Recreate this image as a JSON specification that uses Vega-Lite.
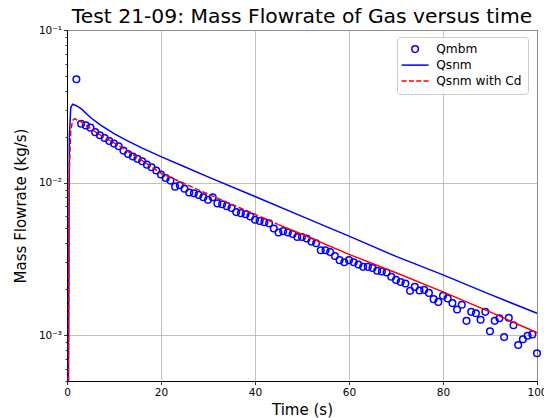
{
  "$schema": "https://vega.github.io/schema/vega-lite/v6.json",
  "width": 470,
  "height": 351,
  "autosize": "none",
  "padding": {"left": 67, "top": 30, "right": 7, "bottom": 37},
  "title": {"text": "Test 21-09: Mass Flowrate of Gas versus time", "fontSize": 20.3, "font": "DejaVu Sans", "fontWeight": "normal", "color": "#000000", "offset": -2, "anchor": "middle"},
  "config": {
    "font": "DejaVu Sans",
    "view": {"stroke": "#000000", "strokeWidth": 1},
    "axis": {"domainColor": "#000000", "tickColor": "#000000", "labelColor": "#000000", "titleColor": "#000000", "labelFont": "DejaVu Sans", "titleFont": "DejaVu Sans", "labelFontSize": 10.5, "titleFontSize": 15, "titleFontWeight": "normal", "gridColor": "#b0b0b0", "gridWidth": 0.8, "tickWidth": 0.8, "domainWidth": 1}
  },
  "data": {"values": [
    {"t": 2, "v": 0.0476, "series": "Qmbm"},
    {"t": 3, "v": 0.0243, "series": "Qmbm"},
    {"t": 4, "v": 0.0237, "series": "Qmbm"},
    {"t": 5, "v": 0.0229, "series": "Qmbm"},
    {"t": 6, "v": 0.0214, "series": "Qmbm"},
    {"t": 7, "v": 0.0204, "series": "Qmbm"},
    {"t": 8, "v": 0.0196, "series": "Qmbm"},
    {"t": 9, "v": 0.0187, "series": "Qmbm"},
    {"t": 10, "v": 0.0180, "series": "Qmbm"},
    {"t": 11, "v": 0.0173, "series": "Qmbm"},
    {"t": 12, "v": 0.0162, "series": "Qmbm"},
    {"t": 13, "v": 0.0154, "series": "Qmbm"},
    {"t": 14, "v": 0.0148, "series": "Qmbm"},
    {"t": 15, "v": 0.0143, "series": "Qmbm"},
    {"t": 16, "v": 0.0138, "series": "Qmbm"},
    {"t": 17, "v": 0.0131, "series": "Qmbm"},
    {"t": 18, "v": 0.0126, "series": "Qmbm"},
    {"t": 19, "v": 0.0120, "series": "Qmbm"},
    {"t": 20, "v": 0.0113, "series": "Qmbm"},
    {"t": 21, "v": 0.0107, "series": "Qmbm"},
    {"t": 22, "v": 0.0103, "series": "Qmbm"},
    {"t": 23, "v": 0.0094, "series": "Qmbm"},
    {"t": 24, "v": 0.0096, "series": "Qmbm"},
    {"t": 25, "v": 0.0091, "series": "Qmbm"},
    {"t": 26, "v": 0.0086, "series": "Qmbm"},
    {"t": 27, "v": 0.0085, "series": "Qmbm"},
    {"t": 28, "v": 0.0083, "series": "Qmbm"},
    {"t": 29, "v": 0.0080, "series": "Qmbm"},
    {"t": 30, "v": 0.0077, "series": "Qmbm"},
    {"t": 31, "v": 0.0080, "series": "Qmbm"},
    {"t": 32, "v": 0.0073, "series": "Qmbm"},
    {"t": 33, "v": 0.0072, "series": "Qmbm"},
    {"t": 34, "v": 0.0070, "series": "Qmbm"},
    {"t": 35, "v": 0.0068, "series": "Qmbm"},
    {"t": 36, "v": 0.0064, "series": "Qmbm"},
    {"t": 37, "v": 0.0063, "series": "Qmbm"},
    {"t": 38, "v": 0.0062, "series": "Qmbm"},
    {"t": 39, "v": 0.0060, "series": "Qmbm"},
    {"t": 40, "v": 0.0057, "series": "Qmbm"},
    {"t": 41, "v": 0.0056, "series": "Qmbm"},
    {"t": 42, "v": 0.0055, "series": "Qmbm"},
    {"t": 43, "v": 0.0054, "series": "Qmbm"},
    {"t": 44, "v": 0.0050, "series": "Qmbm"},
    {"t": 45, "v": 0.0047, "series": "Qmbm"},
    {"t": 46, "v": 0.0048, "series": "Qmbm"},
    {"t": 47, "v": 0.0047, "series": "Qmbm"},
    {"t": 48, "v": 0.0046, "series": "Qmbm"},
    {"t": 49, "v": 0.0044, "series": "Qmbm"},
    {"t": 50, "v": 0.0044, "series": "Qmbm"},
    {"t": 51, "v": 0.0043, "series": "Qmbm"},
    {"t": 52, "v": 0.0041, "series": "Qmbm"},
    {"t": 53, "v": 0.0040, "series": "Qmbm"},
    {"t": 54, "v": 0.0036, "series": "Qmbm"},
    {"t": 55, "v": 0.0036, "series": "Qmbm"},
    {"t": 56, "v": 0.0035, "series": "Qmbm"},
    {"t": 57, "v": 0.0033, "series": "Qmbm"},
    {"t": 58, "v": 0.0031, "series": "Qmbm"},
    {"t": 59, "v": 0.0030, "series": "Qmbm"},
    {"t": 60, "v": 0.0031, "series": "Qmbm"},
    {"t": 61, "v": 0.0030, "series": "Qmbm"},
    {"t": 62, "v": 0.0029, "series": "Qmbm"},
    {"t": 63, "v": 0.0028, "series": "Qmbm"},
    {"t": 64, "v": 0.0028, "series": "Qmbm"},
    {"t": 65, "v": 0.00275, "series": "Qmbm"},
    {"t": 66, "v": 0.00264, "series": "Qmbm"},
    {"t": 67, "v": 0.00261, "series": "Qmbm"},
    {"t": 68, "v": 0.00257, "series": "Qmbm"},
    {"t": 69, "v": 0.00241, "series": "Qmbm"},
    {"t": 70, "v": 0.00230, "series": "Qmbm"},
    {"t": 71, "v": 0.00223, "series": "Qmbm"},
    {"t": 72, "v": 0.00218, "series": "Qmbm"},
    {"t": 73, "v": 0.00195, "series": "Qmbm"},
    {"t": 74, "v": 0.00207, "series": "Qmbm"},
    {"t": 75, "v": 0.00196, "series": "Qmbm"},
    {"t": 76, "v": 0.00198, "series": "Qmbm"},
    {"t": 77, "v": 0.00189, "series": "Qmbm"},
    {"t": 78, "v": 0.00172, "series": "Qmbm"},
    {"t": 79, "v": 0.00165, "series": "Qmbm"},
    {"t": 80, "v": 0.00181, "series": "Qmbm"},
    {"t": 81, "v": 0.00174, "series": "Qmbm"},
    {"t": 82, "v": 0.00162, "series": "Qmbm"},
    {"t": 83, "v": 0.00147, "series": "Qmbm"},
    {"t": 84, "v": 0.00158, "series": "Qmbm"},
    {"t": 85, "v": 0.00124, "series": "Qmbm"},
    {"t": 86, "v": 0.00142, "series": "Qmbm"},
    {"t": 87, "v": 0.00139, "series": "Qmbm"},
    {"t": 88, "v": 0.00126, "series": "Qmbm"},
    {"t": 89, "v": 0.00142, "series": "Qmbm"},
    {"t": 90, "v": 0.00106, "series": "Qmbm"},
    {"t": 91, "v": 0.00124, "series": "Qmbm"},
    {"t": 92, "v": 0.00129, "series": "Qmbm"},
    {"t": 93, "v": 0.00097, "series": "Qmbm"},
    {"t": 94, "v": 0.00130, "series": "Qmbm"},
    {"t": 95, "v": 0.00116, "series": "Qmbm"},
    {"t": 96, "v": 0.00086, "series": "Qmbm"},
    {"t": 97, "v": 0.00094, "series": "Qmbm"},
    {"t": 98, "v": 0.00099, "series": "Qmbm"},
    {"t": 99, "v": 0.00101, "series": "Qmbm"},
    {"t": 100, "v": 0.00076, "series": "Qmbm"},
    {"t": 0.3, "v": 0.0005, "series": "Qsnm"},
    {"t": 0.5, "v": 0.020, "series": "Qsnm"},
    {"t": 0.8, "v": 0.031, "series": "Qsnm"},
    {"t": 1.2, "v": 0.0326, "series": "Qsnm"},
    {"t": 2, "v": 0.0319, "series": "Qsnm"},
    {"t": 3, "v": 0.0305, "series": "Qsnm"},
    {"t": 5, "v": 0.0267, "series": "Qsnm"},
    {"t": 7, "v": 0.0240, "series": "Qsnm"},
    {"t": 10, "v": 0.0209, "series": "Qsnm"},
    {"t": 13, "v": 0.0187, "series": "Qsnm"},
    {"t": 16, "v": 0.0168, "series": "Qsnm"},
    {"t": 20, "v": 0.0148, "series": "Qsnm"},
    {"t": 25, "v": 0.0127, "series": "Qsnm"},
    {"t": 30, "v": 0.0109, "series": "Qsnm"},
    {"t": 40, "v": 0.0081, "series": "Qsnm"},
    {"t": 50, "v": 0.0060, "series": "Qsnm"},
    {"t": 60, "v": 0.00445, "series": "Qsnm"},
    {"t": 70, "v": 0.00328, "series": "Qsnm"},
    {"t": 80, "v": 0.00248, "series": "Qsnm"},
    {"t": 90, "v": 0.00185, "series": "Qsnm"},
    {"t": 100, "v": 0.00139, "series": "Qsnm"},
    {"t": 0.3, "v": 0.0005, "series": "Qsnm with Cd"},
    {"t": 0.5, "v": 0.012, "series": "Qsnm with Cd"},
    {"t": 0.8, "v": 0.022, "series": "Qsnm with Cd"},
    {"t": 1.2, "v": 0.0255, "series": "Qsnm with Cd"},
    {"t": 1.6, "v": 0.0262, "series": "Qsnm with Cd"},
    {"t": 3, "v": 0.0250, "series": "Qsnm with Cd"},
    {"t": 5, "v": 0.0226, "series": "Qsnm with Cd"},
    {"t": 7, "v": 0.0206, "series": "Qsnm with Cd"},
    {"t": 10, "v": 0.0182, "series": "Qsnm with Cd"},
    {"t": 15, "v": 0.0146, "series": "Qsnm with Cd"},
    {"t": 20, "v": 0.0115, "series": "Qsnm with Cd"},
    {"t": 30, "v": 0.0084, "series": "Qsnm with Cd"},
    {"t": 40, "v": 0.0062, "series": "Qsnm with Cd"},
    {"t": 45, "v": 0.0053, "series": "Qsnm with Cd"},
    {"t": 50, "v": 0.00458, "series": "Qsnm with Cd"},
    {"t": 60, "v": 0.00338, "series": "Qsnm with Cd"},
    {"t": 70, "v": 0.00256, "series": "Qsnm with Cd"},
    {"t": 80, "v": 0.00192, "series": "Qsnm with Cd"},
    {"t": 90, "v": 0.00142, "series": "Qsnm with Cd"},
    {"t": 100, "v": 0.001035, "series": "Qsnm with Cd"}
  ]},
  "layer": [
    {
      "transform": [{"filter": "datum.series == 'Qmbm'"}],
      "mark": {"type": "point", "filled": false, "strokeWidth": 1.5, "size": 100, "opacity": 1},
      "encoding": {
        "x": {"field": "t", "type": "quantitative", "scale": {"domain": [0, 100], "nice": false},
          "axis": {"title": "Time (s)", "values": [0, 20, 40, 60, 80, 100], "grid": true, "tickSize": 3.5, "labelPadding": 3, "titlePadding": 4, "labelFlush": false, "labelOverlap": false, "format": "d"}},
        "y": {"field": "v", "type": "quantitative", "scale": {"type": "log", "domain": [0.0005, 0.1], "nice": false},
          "axis": {"title": "Mass Flowrate (kg/s)", "titlePadding": 10,
            "values": [0.0005, 0.0006, 0.0007, 0.0008, 0.0009, 0.001, 0.002, 0.003, 0.004, 0.005, 0.006, 0.007, 0.008, 0.009, 0.01, 0.02, 0.03, 0.04, 0.05, 0.06, 0.07, 0.08, 0.09, 0.1],
            "labelExpr": "abs(datum.value - 0.1) < 1e-9 ? '10⁻¹' : abs(datum.value - 0.01) < 1e-10 ? '10⁻²' : abs(datum.value - 0.001) < 1e-11 ? '10⁻³' : ''",
            "labelOverlap": false, "labelPadding": 2, "grid": true,
            "gridOpacity": {"condition": {"test": "abs(log(datum.value)/LN10 - round(log(datum.value)/LN10)) < 0.001", "value": 1}, "value": 0},
            "tickSize": {"condition": {"test": "abs(log(datum.value)/LN10 - round(log(datum.value)/LN10)) < 0.001", "value": 3.5}, "value": 2}}},
        "color": {"field": "series", "type": "nominal",
          "scale": {"domain": ["Qmbm", "Qsnm", "Qsnm with Cd"], "range": ["#0000ff", "#0000ff", "#ff0000"]},
          "legend": {"title": null, "orient": "none", "legendX": 330, "legendY": 7, "symbolSize": 100, "symbolOffset": 6, "symbolStrokeWidth": 1.5, "labelFontSize": 12.2, "labelFont": "DejaVu Sans", "labelColor": "#000000", "labelOffset": 15, "padding": 6, "rowPadding": 3, "fillColor": "rgba(255,255,255,0.8)", "strokeColor": "#cccccc", "cornerRadius": 3}},
        "shape": {"field": "series", "type": "nominal",
          "scale": {"domain": ["Qmbm", "Qsnm", "Qsnm with Cd"], "range": ["M-0.66,0A0.66,0.66,0,1,1,0.66,0A0.66,0.66,0,1,1,-0.66,0Z", "M-2.7,0H2.7", "M-2.7,0H-1.69M-1.24,0H-0.23M0.22,0H1.23M1.68,0H2.7"]},
          "legend": {"title": null, "orient": "none", "legendX": 330, "legendY": 7, "symbolSize": 100, "symbolOffset": 6, "symbolStrokeWidth": 1.5, "labelFontSize": 12.2, "labelFont": "DejaVu Sans", "labelColor": "#000000", "labelOffset": 15, "padding": 6, "rowPadding": 3, "fillColor": "rgba(255,255,255,0.8)", "strokeColor": "#cccccc", "cornerRadius": 3}}
      }
    },
    {
      "transform": [{"filter": "datum.series == 'Qsnm'"}],
      "mark": {"type": "line", "color": "#0000ff", "strokeWidth": 1.5},
      "encoding": {"x": {"field": "t", "type": "quantitative"}, "y": {"field": "v", "type": "quantitative"}}
    },
    {
      "transform": [{"filter": "datum.series == 'Qsnm with Cd' && datum.t <= 45"}],
      "mark": {"type": "line", "color": "#ff0000", "strokeWidth": 1.5, "strokeDash": [5.5, 2.4]},
      "encoding": {"x": {"field": "t", "type": "quantitative"}, "y": {"field": "v", "type": "quantitative"}}
    },
    {
      "transform": [{"filter": "datum.series == 'Qsnm with Cd' && datum.t >= 45"}],
      "mark": {"type": "line", "color": "#ff0000", "strokeWidth": 1.5},
      "encoding": {"x": {"field": "t", "type": "quantitative"}, "y": {"field": "v", "type": "quantitative"}}
    }
  ]
}
